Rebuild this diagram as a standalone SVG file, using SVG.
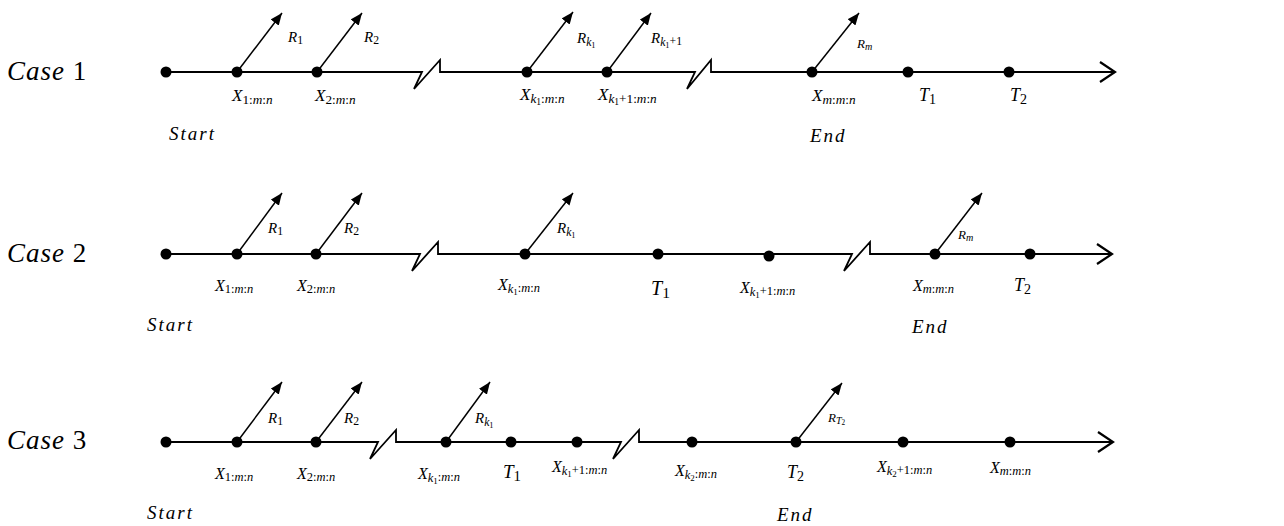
<svg xmlns="http://www.w3.org/2000/svg" width="1284" height="526" viewBox="0 0 1284 526">
<defs>
<style>
text{font-family:"Liberation Serif","DejaVu Serif",serif;font-style:italic;fill:#000}
.up{font-style:normal}
.sub{font-size:0.78em}
.sub .sub{font-size:0.72em}
.case{font-size:27px;letter-spacing:1px}
.se{font-size:19px;letter-spacing:2px}
.t{font-size:18px}
.xl{font-size:17px}
.xm{font-size:16px}
.r{font-size:15px}
.rs{font-size:13px}
.axis{fill:none;stroke:#000;stroke-width:1.8;stroke-linejoin:miter}
.chev{fill:none;stroke:#000;stroke-width:2.2}
.ray{stroke:#000;stroke-width:1.5;marker-end:url(#ah)}
.dot{fill:#000}
</style>
<marker id="ah" viewBox="0 0 12 10" refX="12" refY="5" markerWidth="12" markerHeight="10" markerUnits="userSpaceOnUse" orient="auto">
<path d="M0,0 L12,5 L0,10 Z" fill="#000"/>
</marker>
</defs>
<rect width="1284" height="526" fill="#fff"/>

<g id="case-labels">
<text class="case" x="7" y="80">Case <tspan class="up">1</tspan></text>
<text class="case" x="7" y="262">Case <tspan class="up">2</tspan></text>
<text class="case" x="7" y="449">Case <tspan class="up">3</tspan></text>
</g>

<g id="connectors">
<path class="axis" d="M166,72 H422 L414,89 L440,60 V72 H695 L687,89 L711,60 V72 H1114"/>
<path class="chev" d="M1100,62 L1115,72 L1100,82"/>
<line class="ray" x1="237" y1="72" x2="282" y2="13"/>
<line class="ray" x1="317" y1="72" x2="362" y2="13"/>
<line class="ray" x1="527" y1="72" x2="573" y2="12"/>
<line class="ray" x1="607" y1="72" x2="651" y2="13"/>
<line class="ray" x1="812" y1="72" x2="859" y2="13"/>

<path class="axis" d="M166,254 H420 L412,271 L438,242 V254 H852 L844,271 L870,242 V254 H1111"/>
<path class="chev" d="M1097,244 L1112,254 L1097,264"/>
<line class="ray" x1="237" y1="254" x2="282" y2="193"/>
<line class="ray" x1="316" y1="254" x2="362" y2="193"/>
<line class="ray" x1="525" y1="254" x2="573" y2="193"/>
<line class="ray" x1="935" y1="254" x2="982" y2="193"/>

<path class="axis" d="M166,442 H378 L370,459 L396,430 V442 H621 L613,459 L639,430 V442 H1112"/>
<path class="chev" d="M1098,432 L1113,442 L1098,452"/>
<line class="ray" x1="237" y1="442" x2="282" y2="382"/>
<line class="ray" x1="316" y1="442" x2="362" y2="382"/>
<line class="ray" x1="446" y1="442" x2="490" y2="382"/>
<line class="ray" x1="796" y1="442" x2="842" y2="383"/>
</g>

<!-- Case 1 nodes -->
<g id="c1-start"><circle class="dot" cx="166" cy="72" r="5.5"/><text class="se" x="169" y="140">Start</text></g>
<g id="c1-x1"><circle class="dot" cx="237" cy="72" r="5.5"/>
<text class="xl" x="232" y="101">X<tspan class="sub" dy="0.2em"><tspan class="up">1:</tspan>m<tspan class="up">:</tspan>n</tspan></text>
<text class="r" x="288" y="42">R<tspan class="sub up" dy="0.2em">1</tspan></text></g>
<g id="c1-x2"><circle class="dot" cx="317" cy="72" r="5.5"/>
<text class="xl" x="315" y="101">X<tspan class="sub" dy="0.2em"><tspan class="up">2:</tspan>m<tspan class="up">:</tspan>n</tspan></text>
<text class="r" x="364" y="42">R<tspan class="sub up" dy="0.2em">2</tspan></text></g>
<g id="c1-xk1"><circle class="dot" cx="527" cy="72" r="5.5"/>
<text class="xl" x="520" y="100">X<tspan class="sub" dy="0.25em">k<tspan class="sub up" dy="0.2em">1</tspan><tspan dy="-0.2em"><tspan class="up">:</tspan>m<tspan class="up">:</tspan>n</tspan></tspan></text>
<text class="r" x="577" y="43">R<tspan class="sub" dy="0.25em">k<tspan class="sub up" dy="0.2em">1</tspan></tspan></text></g>
<g id="c1-xk1p1"><circle class="dot" cx="607" cy="72" r="5.5"/>
<text class="xl" x="598" y="100">X<tspan class="sub" dy="0.25em">k<tspan class="sub up" dy="0.2em">1</tspan><tspan class="up" dy="-0.2em">+1:</tspan>m<tspan class="up">:</tspan>n</tspan></text>
<text class="r" x="651" y="43">R<tspan class="sub" dy="0.25em">k<tspan class="sub up" dy="0.2em">1</tspan><tspan class="up" dy="-0.2em">+1</tspan></tspan></text></g>
<g id="c1-xm"><circle class="dot" cx="812" cy="72" r="5.5"/>
<text class="xl" x="812" y="101">X<tspan class="sub" dy="0.2em">m<tspan class="up">:</tspan>m<tspan class="up">:</tspan>n</tspan></text>
<text class="rs" x="857" y="48">R<tspan class="sub" dy="0.2em">m</tspan></text>
<text class="se" x="810" y="142">End</text></g>
<g id="c1-t1"><circle class="dot" cx="908" cy="72" r="5.5"/>
<text class="t" x="919" y="101">T<tspan class="sub up" dy="0.2em">1</tspan></text></g>
<g id="c1-t2"><circle class="dot" cx="1009" cy="72" r="5.5"/>
<text class="t" x="1010" y="101">T<tspan class="sub up" dy="0.2em">2</tspan></text></g>

<!-- Case 2 nodes -->
<g id="c2-start"><circle class="dot" cx="166" cy="254" r="5.5"/><text class="se" x="147" y="331">Start</text></g>
<g id="c2-x1"><circle class="dot" cx="237" cy="254" r="5.5"/>
<text class="xm" x="215" y="291">X<tspan class="sub" dy="0.2em"><tspan class="up">1:</tspan>m<tspan class="up">:</tspan>n</tspan></text>
<text class="r" x="268" y="233">R<tspan class="sub up" dy="0.2em">1</tspan></text></g>
<g id="c2-x2"><circle class="dot" cx="316" cy="254" r="5.5"/>
<text class="xm" x="297" y="291">X<tspan class="sub" dy="0.2em"><tspan class="up">2:</tspan>m<tspan class="up">:</tspan>n</tspan></text>
<text class="r" x="344" y="233">R<tspan class="sub up" dy="0.2em">2</tspan></text></g>
<g id="c2-xk1"><circle class="dot" cx="525" cy="254" r="5.5"/>
<text class="xm" x="498" y="290">X<tspan class="sub" dy="0.25em">k<tspan class="sub up" dy="0.2em">1</tspan><tspan dy="-0.2em"><tspan class="up">:</tspan>m<tspan class="up">:</tspan>n</tspan></tspan></text>
<text class="r" x="557" y="233">R<tspan class="sub" dy="0.25em">k<tspan class="sub up" dy="0.2em">1</tspan></tspan></text></g>
<g id="c2-t1"><circle class="dot" cx="658" cy="254" r="5.5"/>
<text x="651" y="295" style="font-size:20px">T<tspan class="sub up" dy="0.2em">1</tspan></text></g>
<g id="c2-xk1p1"><circle class="dot" cx="769" cy="256" r="5.5"/>
<text class="xm" x="740" y="293">X<tspan class="sub" dy="0.25em">k<tspan class="sub up" dy="0.2em">1</tspan><tspan class="up" dy="-0.2em">+1:</tspan>m<tspan class="up">:</tspan>n</tspan></text></g>
<g id="c2-xm"><circle class="dot" cx="935" cy="254" r="5.5"/>
<text class="xm" x="913" y="291">X<tspan class="sub" dy="0.2em">m<tspan class="up">:</tspan>m<tspan class="up">:</tspan>n</tspan></text>
<text class="rs" x="958" y="239">R<tspan class="sub" dy="0.2em">m</tspan></text>
<text class="se" x="912" y="333">End</text></g>
<g id="c2-t2"><circle class="dot" cx="1030" cy="254" r="5.5"/>
<text class="t" x="1014" y="291">T<tspan class="sub up" dy="0.2em">2</tspan></text></g>

<!-- Case 3 nodes -->
<g id="c3-start"><circle class="dot" cx="166" cy="442" r="5.5"/><text class="se" x="147" y="519">Start</text></g>
<g id="c3-x1"><circle class="dot" cx="237" cy="442" r="5.5"/>
<text class="xm" x="215" y="479">X<tspan class="sub" dy="0.2em"><tspan class="up">1:</tspan>m<tspan class="up">:</tspan>n</tspan></text>
<text class="r" x="268" y="423">R<tspan class="sub up" dy="0.2em">1</tspan></text></g>
<g id="c3-x2"><circle class="dot" cx="316" cy="442" r="5.5"/>
<text class="xm" x="297" y="479">X<tspan class="sub" dy="0.2em"><tspan class="up">2:</tspan>m<tspan class="up">:</tspan>n</tspan></text>
<text class="r" x="344" y="423">R<tspan class="sub up" dy="0.2em">2</tspan></text></g>
<g id="c3-xk1"><circle class="dot" cx="446" cy="442" r="5.5"/>
<text class="xm" x="418" y="479">X<tspan class="sub" dy="0.25em">k<tspan class="sub up" dy="0.2em">1</tspan><tspan dy="-0.2em"><tspan class="up">:</tspan>m<tspan class="up">:</tspan>n</tspan></tspan></text>
<text class="r" x="475" y="423">R<tspan class="sub" dy="0.25em">k<tspan class="sub up" dy="0.2em">1</tspan></tspan></text></g>
<g id="c3-t1"><circle class="dot" cx="511" cy="442" r="5.5"/>
<text x="503" y="478" style="font-size:19px">T<tspan class="sub up" dy="0.2em">1</tspan></text></g>
<g id="c3-xk1p1"><circle class="dot" cx="577" cy="442" r="5.5"/>
<text class="xm" x="552" y="472">X<tspan class="sub" dy="0.25em">k<tspan class="sub up" dy="0.2em">1</tspan><tspan class="up" dy="-0.2em">+1:</tspan>m<tspan class="up">:</tspan>n</tspan></text></g>
<g id="c3-xk2"><circle class="dot" cx="692" cy="442" r="5.5"/>
<text class="xm" x="675" y="476">X<tspan class="sub" dy="0.25em">k<tspan class="sub up" dy="0.2em">2</tspan><tspan dy="-0.2em"><tspan class="up">:</tspan>m<tspan class="up">:</tspan>n</tspan></tspan></text></g>
<g id="c3-t2"><circle class="dot" cx="796" cy="442" r="5.5"/>
<text class="t" x="787" y="478">T<tspan class="sub up" dy="0.2em">2</tspan></text>
<text class="rs" x="828" y="422">R<tspan class="sub" dy="0.2em">T<tspan class="sub up" dy="0.2em">2</tspan></tspan></text>
<text class="se" x="777" y="521">End</text></g>
<g id="c3-xk2p1"><circle class="dot" cx="903" cy="442" r="5.5"/>
<text class="xm" x="877" y="472">X<tspan class="sub" dy="0.25em">k<tspan class="sub up" dy="0.2em">2</tspan><tspan class="up" dy="-0.2em">+1:</tspan>m<tspan class="up">:</tspan>n</tspan></text></g>
<g id="c3-xm"><circle class="dot" cx="1010" cy="442" r="5.5"/>
<text class="xm" x="990" y="473">X<tspan class="sub" dy="0.2em">m<tspan class="up">:</tspan>m<tspan class="up">:</tspan>n</tspan></text></g>
</svg>
